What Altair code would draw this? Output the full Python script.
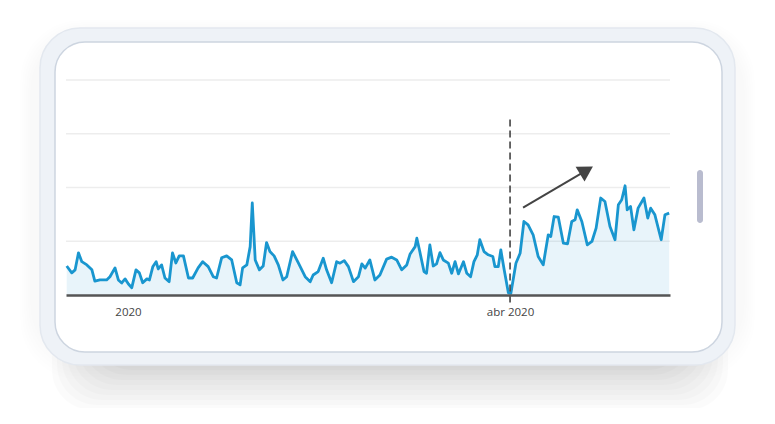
import altair as alt
import pandas as pd

# ---- data ----
day_offsets = [-14.6,-13.4,-12.6,-11.8,-11.0,-9.8,-8.6,-7.9,-6.7,-5.1,
               -4.3,-3.1,-2.3,-1.5,-0.7,0.1,0.9,1.9,2.7,3.5,
               4.5,5.1,5.9,6.7,7.2,8.0,8.8,9.8,10.6,11.4,
               12.2,13.2,14.4,15.4,16.7,17.8,19.1,20.3,21.1,22.3,
               23.5,24.7,25.9,26.7,27.3,28.3,29.1,29.6,30.3,31.3,
               32.2,33.0,33.8,34.8,35.8,36.9,37.8,39.2,40.6,42.2,
               43.4,44.1,45.3,46.5,47.3,48.5,49.7,50.5,51.5,52.5,
               53.7,54.9,55.7,56.5,57.6,58.8,60.0,61.6,62.8,64.0,
               65.2,66.4,67.2,68.4,68.8,69.5,70.5,71.1,71.9,72.7,
               73.5,74.3,75.1,76.3,77.1,77.9,78.7,79.9,80.7,81.6,
               82.4,83.2,83.8,84.8,85.8,86.9,87.4,88.2,88.8,89.6,
               90.6,91.2,92.4,93.4,94.3,95.3,96.5,97.7,98.9,100.1,
               100.7,101.5,102.5,103.7,104.7,105.7,106.5,107.0,108.1,109.4,
               110.5,111.5,112.6,113.6,114.8,116.0,116.8,117.6,118.4,118.9,
               119.7,120.5,121.5,122.9,123.8,124.5,125.5,127.0,127.9,128.9]
values = [13.5,10.3,11.7,19.6,15.5,14.0,11.7,6.5,7.0,7.0,
          8.5,12.6,7.0,5.6,7.5,5.1,3.4,11.7,10.3,5.7,
          7.5,7.0,13.1,15.5,12.1,14.0,7.9,6.2,19.6,14.9,
          18.2,18.2,7.9,7.9,12.6,15.5,13.2,8.5,7.9,17.3,
          18.2,16.3,5.7,4.7,12.6,14.0,22.5,42.8,16.3,11.7,
          13.5,24.4,20.2,18.2,14.0,7.0,8.5,20.2,14.8,8.5,
          6.2,9.3,10.9,17.1,11.7,5.7,15.5,14.8,16.0,13.2,
          6.2,8.5,14.5,12.5,16.3,7.0,9.3,16.7,17.6,16.3,
          11.7,14.0,19.1,22.5,26.4,20.2,10.9,10.1,23.3,13.5,
          14.5,19.7,16.3,14.8,10.1,15.5,9.8,15.5,10.1,8.5,
          15.5,18.7,25.7,20.2,18.7,17.9,13.2,13.2,21.0,11.7,
          1.0,0.8,14.8,19.4,34.2,32.6,28.0,17.9,14.0,28.0,
          27.2,36.5,36.2,24.1,23.8,34.2,35.0,39.6,34.2,23.3,
          24.9,31.1,45.1,43.5,31.9,25.7,42.0,44.3,50.8,39.6,
          41.2,30.3,40.4,45.1,35.8,40.4,37.3,25.7,37.3,38.1]

tick_labels = ["2020", "abr 2020"]
grid_values = [25, 50, 75, 100]
marker_date = ["2020-04-01"]
marker_top = [81.6]
arrow_days = [94.1, 108.7]
arrow_values = [40.6, 57.4]

base = pd.Timestamp("2020-01-01")
df = pd.DataFrame({
    "date": [base + pd.to_timedelta(d, unit="D") for d in day_offsets],
    "value": values,
})
arrow_df = pd.DataFrame({
    "date": [base + pd.to_timedelta(d, unit="D") for d in arrow_days],
    "value": arrow_values,
})
marker_df = pd.DataFrame({"date": pd.to_datetime(marker_date), "top": marker_top})
grid_df = pd.DataFrame({"g": grid_values})
one = pd.DataFrame({"k": [0]})

W, H = 604, 215

xscale = alt.Scale(domain=[alt.DateTime(year=2019, month=12, date=17, hours=5, minutes=30),
                           alt.DateTime(year=2020, month=5, date=9, hours=2, minutes=24)])
yscale = alt.Scale(domain=[0, 100])

label_expr = "month(datum.value) == 0 ? '%s' : '%s'" % (tick_labels[0], tick_labels[1])
xaxis = alt.Axis(
    values=[alt.DateTime(year=2020, month=1, date=1), alt.DateTime(year=2020, month=4, date=1)],
    labelExpr=label_expr, title=None, ticks=False, grid=False,
    domainColor="#555555", domainWidth=2.5, labelPadding=11,
    labelFont="Open Sans", labelFontSize=11.5, labelColor="#444444", zindex=1,
)

def deco(x, x2, y, y2, **mk):
    return alt.Chart(one).mark_rect(**mk).encode(
        x=alt.value(x), x2=alt.value(x2), y=alt.value(y), y2=alt.value(y2))

# phone frame (decoration), coordinates relative to plot origin
shadows = [deco(-46 + 2 * i, 689 - 2 * i, -60 + 2 * i, 300 - 3 * i,
                cornerRadius=60, fill="#000000", opacity=0.004) for i in range(6)]
shadows += [deco(-14 + 5 * i, 662 - 5 * i, 200, 330 - 5 * i,
                 cornerRadius=40, fill="#000000", opacity=0.016) for i in range(9)]
body = deco(-26, 669, -52, 285, cornerRadius=40, fill="#eef2f7",
            stroke="#e3e8ef", strokeWidth=1.5)
screen = deco(-11, 656, -38, 272, cornerRadius=30, fill="#ffffff",
              stroke="#cdd5e0", strokeWidth=1.5)
button = deco(631, 637, 90, 143, cornerRadius=3, fill="#b9bccf")

grid = alt.Chart(grid_df).mark_rule(color="#ededed", strokeWidth=1.5).encode(
    y=alt.Y("g:Q", scale=yscale, axis=None))

area = alt.Chart(df).mark_area(color="#1b96cf", opacity=0.1).encode(
    x=alt.X("date:T", scale=xscale, axis=xaxis),
    y=alt.Y("value:Q", scale=yscale, axis=None))

line = alt.Chart(df).mark_line(color="#1996cf", strokeWidth=2.8, strokeJoin="round").encode(
    x=alt.X("date:T", scale=xscale),
    y=alt.Y("value:Q", scale=yscale))

marker = alt.Chart(marker_df).mark_rule(color="#444444", strokeWidth=1.6, strokeDash=[7, 4]).encode(
    x=alt.X("date:T", scale=xscale),
    y=alt.Y("top:Q", scale=yscale),
    y2=alt.value(H + 10))

arrow_line = alt.Chart(arrow_df).mark_line(color="#444444", strokeWidth=2).encode(
    x=alt.X("date:T", scale=xscale),
    y=alt.Y("value:Q", scale=yscale))

arrow_head = alt.Chart(arrow_df.tail(1)).mark_point(
    shape="triangle", filled=True, color="#444444", opacity=1, size=300, angle=59).encode(
    x=alt.X("date:T", scale=xscale),
    y=alt.Y("value:Q", scale=yscale))

chart = alt.layer(
    *shadows, body, screen, button, grid, area, line, marker, arrow_line, arrow_head
).properties(
    width=W, height=H,
    autosize=alt.AutoSizeParams(type="none"),
    padding={"left": 58, "top": 72, "right": 93, "bottom": 113},
).configure_view(strokeWidth=0)

chart.save("out.html", embed_options={"renderer": "svg", "actions": False})
